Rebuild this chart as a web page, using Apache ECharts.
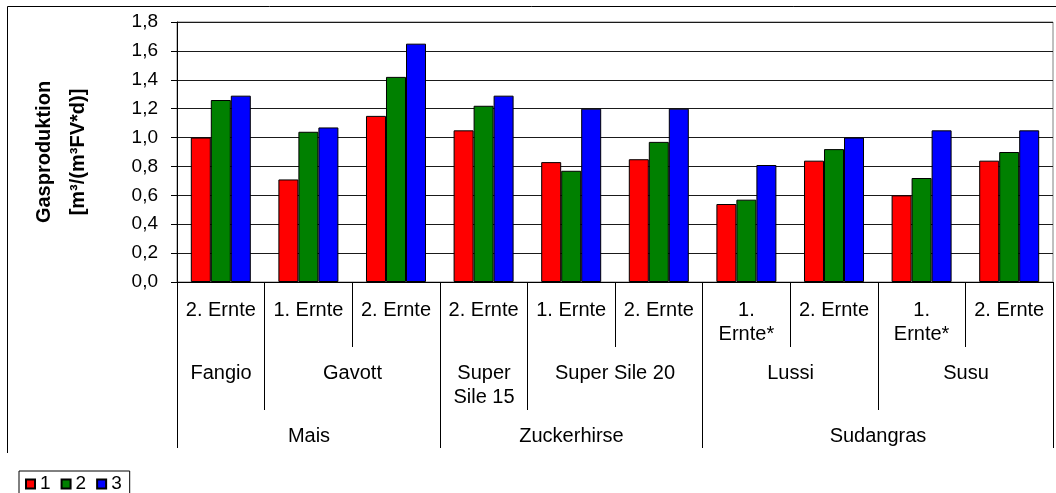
<!DOCTYPE html>
<html>
<head>
<meta charset="utf-8">
<script src="https://cdn.jsdelivr.net/npm/echarts@6/dist/echarts.min.js"></script>
<style>
html,body{margin:0;padding:0;background:#fff;}
#chart{width:1056px;height:493px;}
</style>
</head>
<body>
<div id="chart"></div>
<script>
// ---- data ----
const categories = ['2. Ernte','1. Ernte','2. Ernte','2. Ernte','1. Ernte','2. Ernte','1.\nErnte*','2. Ernte','1.\nErnte*','2. Ernte'];
const varieties = ['Fangio','Gavott','Super\nSile 15','Super Sile 20','Lussi','Susu'];
const varietySpans = [1,2,1,2,2,2];
const crops = ['Mais','Zuckerhirse','Sudangras'];
const cropSpans = [3,3,4];
const seriesNames = ['1','2','3'];
const values1 = [1.00,0.71,1.15,1.05,0.83,0.85,0.54,0.84,0.60,0.84];
const values2 = [1.26,1.04,1.42,1.22,0.77,0.97,0.57,0.92,0.72,0.90];
const values3 = [1.29,1.07,1.65,1.29,1.20,1.20,0.81,1.00,1.05,1.05];
const yMin = 0, yMax = 1.8, yStep = 0.2;
const yTitleLines = ['Gasproduktion','[m³/(m³FV*d)]'];

// ---- build hierarchical group items ----
const groupItems = [];
const groupLabels = [];
function addLevel(labels, spans, level){
  let s = 0;
  labels.forEach((lab,i)=>{
    groupItems.push({value:[s, s+spans[i]-1, level]});
    groupLabels.push(lab);
    s += spans[i];
  });
}
addLevel(varieties, varietySpans, 2);
addLevel(crops, cropSpans, 3);

const FONT = '"Liberation Sans", Arial, sans-serif';
const colors = ['#FF0000','#008000','#0000FF'];
const barData = [values1, values2, values3];

function crisp(p){
  const r = Math.round(p * 2);
  return (r + 1) % 2 === 0 ? r / 2 : (r + 1) / 2;
}

const chart = echarts.init(document.getElementById('chart'), null, {renderer:'canvas'});

const barSeries = barData.map((d,i)=>({
  name: seriesNames[i],
  type: 'bar',
  data: d,
  barGap: '0%',
  barCategoryGap: '31.5%',
  itemStyle: {color: colors[i], borderColor:'#000', borderWidth:1},
  emphasis: {disabled:true}
}));

const groupSeries = {
  type: 'custom',
  silent: true,
  clip: false,
  data: groupItems,
  encode: {x: 0, y: 2},
  renderItem: function(params, api){
    const s = api.value(0), e = api.value(1), lvl = api.value(2);
    const w = api.size([1,0])[0];
    const y0 = api.coord([0, 0])[1];
    const xl = crisp(api.coord([s, 0])[0] - w/2);
    const xr = crisp(api.coord([e, 0])[0] + w/2);
    const lineEnd = lvl === 2 ? 128 : 166;
    const textTop = lvl === 2 ? 79 : 142;
    return {
      type: 'group',
      children: [
        {type:'line', shape:{x1:xl, y1:y0, x2:xl, y2:y0+lineEnd}, style:{stroke:'#000', lineWidth:1}},
        {type:'line', shape:{x1:xr, y1:y0, x2:xr, y2:y0+lineEnd}, style:{stroke:'#000', lineWidth:1}},
        {type:'text', x:(xl+xr)/2, y:y0+textTop, style:{
          text: groupLabels[params.dataIndex], fill:'#000',
          font: '20px ' + FONT, align:'center', verticalAlign:'top', lineHeight:24
        }}
      ]
    };
  }
};

chart.setOption({
  animation: false,
  textStyle: {fontFamily: FONT, color:'#000'},
  grid: {left:177, right:3, top:22, bottom:211, show:true, borderColor:'#808080', borderWidth:1},
  legend: {
    data: seriesNames,
    left: 19, top: 471,
    orient: 'horizontal',
    itemWidth: 9, itemHeight: 9, itemGap: 10,
    borderColor: '#000', borderWidth: 1,
    padding: [2, 8, 2, 6],
    icon: 'rect',
    textStyle: {fontSize: 19, color:'#000', fontFamily: FONT, lineHeight: 22},
    selectedMode: false
  },
  graphic: [{
    type:'polyline', silent:true,
    shape:{points:[[7.5,453],[7.5,6.5],[1056,6.5]]},
    style:{stroke:'#000', lineWidth:1, fill:null}
  }],
  xAxis: {
    type: 'category',
    data: categories,
    boundaryGap: true,
    axisLine: {lineStyle:{color:'#000', width:1}},
    axisTick: {show:true, interval:0, length:65, lineStyle:{color:'#000'}},
    axisLabel: {interval:0, margin:16, fontSize:20, lineHeight:24, color:'#000', fontFamily: FONT},
    splitLine: {show:false}
  },
  yAxis: {
    type: 'value',
    min: yMin, max: yMax, interval: yStep,
    name: yTitleLines.join('\n'),
    nameLocation: 'middle',
    nameRotate: 90,
    nameGap: 82,
    nameTextStyle: {fontSize:20, fontWeight:'bold', color:'#000', lineHeight:34, fontFamily: FONT},
    axisLine: {show:true, lineStyle:{color:'#000'}},
    axisTick: {show:true, length:6, lineStyle:{color:'#000'}},
    axisLabel: {margin:19, fontSize:19, color:'#000', fontFamily: FONT,
      formatter: v => v.toFixed(1).replace('.', ',')},
    splitLine: {show:true, lineStyle:{color:'#1a1a1a', width:1}}
  },
  series: [...barSeries, groupSeries]
});
</script>
</body>
</html>
